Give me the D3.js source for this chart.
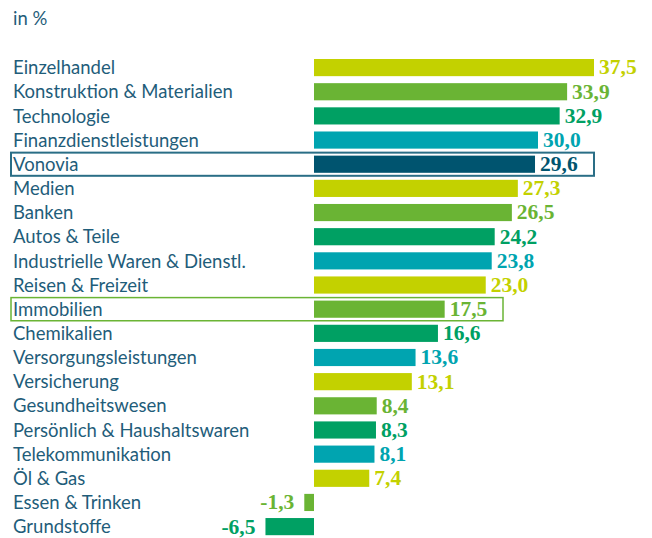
<!DOCTYPE html>
<html>
<head>
<meta charset="utf-8">
<script src="https://cdn.jsdelivr.net/npm/d3@7"></script>
<style>
  body { margin: 0; background: #fff; }
  svg text { font-family: Lato, 'Open Sans', sans-serif; }
</style>
</head>
<body>
<div id="chart"></div>
<script>
// sector names, top to bottom
const sectors = [
  'Einzelhandel', 'Konstruktion & Materialien', 'Technologie', 'Finanzdienstleistungen',
  'Vonovia', 'Medien', 'Banken', 'Autos & Teile', 'Industrielle Waren & Dienstl.',
  'Reisen & Freizeit', 'Immobilien', 'Chemikalien', 'Versorgungsleistungen',
  'Versicherung', 'Gesundheitswesen', 'Persönlich & Haushaltswaren',
  'Telekommunikation', 'Öl & Gas', 'Essen & Trinken', 'Grundstoffe'
]
const values = [37.5, 33.9, 32.9, 30.0, 29.6, 27.3, 26.5, 24.2, 23.8, 23.0,
  17.5, 16.6, 13.6, 13.1, 8.4, 8.3, 8.1, 7.4, -1.3, -6.5]
const highlighted = ['Vonovia', 'Immobilien']

const palette = ['#c3d100', '#6ab434', '#00a063', '#00a4b0']
const vonoviaColor = '#00546f'
const labelColor = '#1f5d7a'

const width = 652
const height = 538

const svg = d3.select('#chart').append('svg')
  .attr('width', width)
  .attr('height', height)

const x = d3.scaleLinear()
  .domain([0, 37.5])
  .range([314, 594])

const y = d3.scaleBand()
  .domain(sectors)
  .range([55.5, 538.7])
  .paddingInner(0.29)
  .paddingOuter(0.145)

let ci = 0
const colors = sectors.map(s => s === 'Vonovia' ? vonoviaColor : palette[ci++ % 4])
const fmt = v => d3.format('.1f')(v).replace('.', ',').replace('−', '-')

svg.append('text')
  .attr('x', 13)
  .attr('y', 25)
  .attr('fill', labelColor)
  .style('font-size', '18.5px')
  .text('in %')

// highlight boxes
const boxEnd = { Vonovia: 594, Immobilien: 503 }
highlighted.forEach(s => {
  const step = y.step()
  svg.append('rect')
    .attr('x', 11)
    .attr('y', y(s) + y.bandwidth() / 2 - step / 2 + 0.5)
    .attr('width', boxEnd[s] - 11)
    .attr('height', step - 1)
    .attr('fill', 'none')
    .attr('stroke', s === 'Vonovia' ? '#2a6e86' : '#6ab434')
    .attr('stroke-width', s === 'Vonovia' ? 2 : 1.5)
})

const row = svg.selectAll('g.row')
  .data(sectors)
  .join('g')
  .attr('class', 'row')

row.append('text')
  .attr('x', 13)
  .attr('y', d => y(d) + y.bandwidth() / 2)
  .attr('dy', '0.36em')
  .attr('fill', labelColor)
  .style('font-size', '18.5px')
  .text(d => d)

row.append('rect')
  .attr('x', (d, i) => x(Math.min(0, values[i])))
  .attr('y', d => y(d))
  .attr('width', (d, i) => Math.abs(x(values[i]) - x(0)))
  .attr('height', y.bandwidth())
  .attr('fill', (d, i) => colors[i])

row.append('text')
  .attr('x', (d, i) => values[i] < 0 ? x(values[i]) - 10 : x(values[i]) + 5)
  .attr('y', d => y(d) + y.bandwidth() / 2)
  .attr('dy', '0.32em')
  .attr('text-anchor', (d, i) => values[i] < 0 ? 'end' : 'start')
  .attr('fill', (d, i) => colors[i])
  .style('font-family', "'Liberation Serif', serif")
  .style('font-weight', 'bold')
  .style('font-size', '21.5px')
  .text((d, i) => fmt(values[i]))
</script>
</body>
</html>
